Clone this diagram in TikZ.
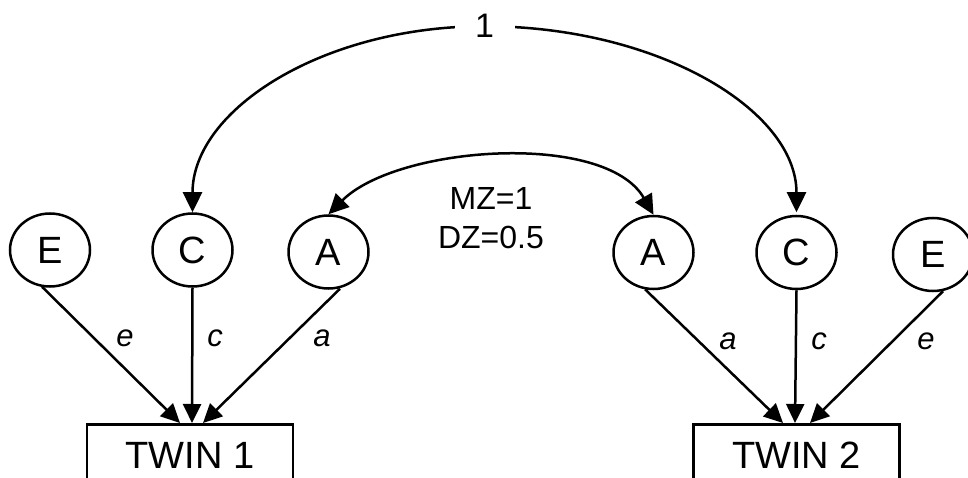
\documentclass[tikz,border=0pt]{standalone}
\usepackage{fontspec}
\setmainfont{Liberation Sans}
\usetikzlibrary{arrows.meta,shapes.geometric}

\begin{document}
\begin{tikzpicture}[x=1pt,y=1pt,
  every node/.style={text=black},
  latent/.style={draw, ellipse, line width=2.5pt, inner sep=0pt,
    minimum width=80pt, minimum height=73pt,
    font=\fontsize{38}{42}\selectfont},
  observed/.style={draw, rectangle, line width=2.5pt, inner ysep=0pt,
    minimum width=206pt, text height=44pt, text depth=35pt, anchor=north,
    font=\fontsize{38}{42}\selectfont},
  effect/.style={line width=2.5pt, -{Triangle[length=19pt,width=18pt]}},
  covpath/.style={line width=2.5pt,
    {Triangle[length=20pt,width=19pt]}-{Triangle[length=20pt,width=19pt]}},
  coef/.style={font=\fontsize{31}{34}\selectfont\itshape},
  plain/.style={font=\fontsize{32}{39.3}\selectfont},
]
\useasboundingbox (0,0) rectangle (968,477);
\clip (0,0) rectangle (968,477);

% latent factors, twin 1
\node[latent] (E1) at (50,227)    {E};
\node[latent] (C1) at (192.5,227) {C};
\node[latent] (A1) at (328.5,225) {A};
% latent factors, twin 2
\node[latent] (A2) at (653.5,224.5) {A};
\node[latent] (C2) at (796.5,224.5) {C};
\node[latent] (E2) at (933,222.5)   {E};

% observed phenotypes
\node[observed] (T1) at (190,54)   {TWIN 1};
\node[observed] (T2) at (796.5,54) {TWIN 2};

% paths from factors to phenotypes
\draw[effect] ([xshift=-8pt,yshift=1pt]E1.south)    -- ([xshift=-10pt]T1.north);
\draw[effect] (C1.south)                           -- ([xshift=2pt]T1.north);
\draw[effect] ([xshift=11.5pt,yshift=1pt]A1.south) -- ([xshift=13pt]T1.north);
\draw[effect] ([xshift=-8.5pt,yshift=1pt]A2.south) -- ([xshift=-13.5pt]T2.north);
\draw[effect] (C2.south)                           -- ([xshift=-1.5pt]T2.north);
\draw[effect] ([xshift=10pt,yshift=1pt]E2.south)   -- ([xshift=13.5pt]T2.north);

% path coefficients
\node[coef] (le1) at (125,138.5) {e};
\node[coef] (lc1) at (215,138.5) {c};
\node[coef] (la1) at (322,138.5) {a};
\node[coef] (la2) at (728,136)   {a};
\node[coef] (lc2) at (819,136)   {c};
\node[coef] (le2) at (926,136)   {e};

% shared environment: correlation 1
\draw[covpath] (C1.north)
  arc[start angle=180, end angle=90, x radius=292, y radius=186]
  node[fill=white, inner sep=2pt, minimum width=60pt,
       font=\fontsize{34}{38}\selectfont] (r1) {1}
  arc[start angle=90, end angle=0, x radius=312, y radius=186];

% additive genetic correlation
\draw[covpath] (A1.north) .. controls +(45:97) and +(120:97) .. (A2.north);
\node[plain, align=center] (rA) at (491,259) {MZ=1\\DZ=0.5};
\end{tikzpicture}
\end{document}
